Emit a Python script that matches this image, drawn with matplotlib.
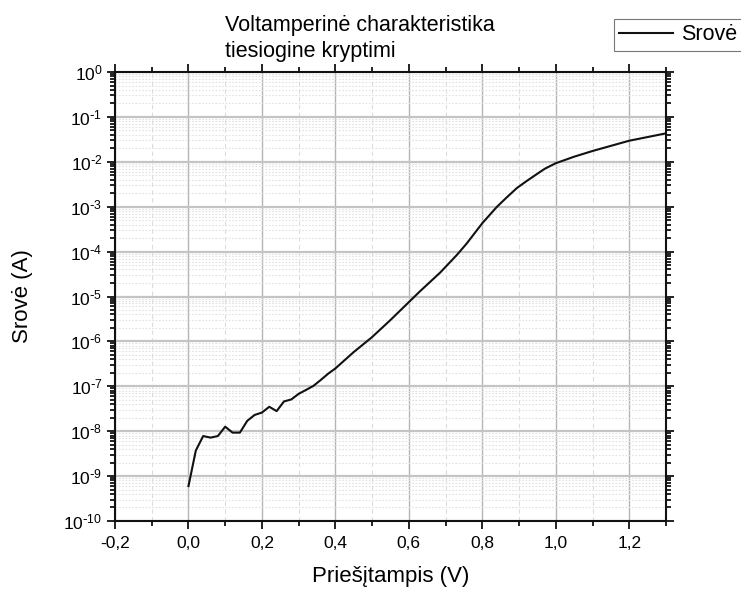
import matplotlib
matplotlib.use("Agg")
import matplotlib.pyplot as plt
from matplotlib.ticker import MultipleLocator, LogLocator, FuncFormatter, NullFormatter
import numpy as np

plt.rcParams['font.family'] = ['Liberation Sans', 'DejaVu Sans']
plt.rcParams['axes.unicode_minus'] = False

voltage = [0.00, 0.02, 0.04, 0.06, 0.08, 0.10, 0.12, 0.14, 0.16, 0.18,
           0.20, 0.22, 0.24, 0.26, 0.28, 0.30, 0.32, 0.34, 0.36, 0.38,
           0.40, 0.45, 0.50, 0.55, 0.60, 0.63, 0.685, 0.73, 0.757, 0.80,
           0.839, 0.866, 0.894, 0.92, 0.945, 0.97, 1.00, 1.05, 1.10, 1.20, 1.30]
current = [6.0e-10, 3.7e-9, 7.8e-9, 7.2e-9, 7.8e-9, 1.26e-8, 9.3e-9, 9.3e-9, 1.7e-8, 2.3e-8,
           2.6e-8, 3.5e-8, 2.8e-8, 4.6e-8, 5.1e-8, 6.8e-8, 8.3e-8, 1.02e-7, 1.38e-7, 1.9e-7,
           2.5e-7, 5.8e-7, 1.25e-6, 3.0e-6, 7.5e-6, 1.3e-5, 3.4e-5, 8.3e-5, 1.5e-4, 4.3e-4,
           9.8e-4, 1.6e-3, 2.6e-3, 3.7e-3, 5.1e-3, 7.0e-3, 9.3e-3, 1.3e-2, 1.74e-2, 2.95e-2, 4.3e-2]


def decade_label(v, pos):
    n = int(round(np.log10(v)))
    if n < 0:
        return r'$\mathregular{10^{\text{-}%d}}$' % (-n)
    return r'$\mathregular{10^{%d}}$' % n


W, H = 741, 590
fig = plt.figure(figsize=(W / 100, H / 100), dpi=100)
ax = fig.add_axes([115 / W, 1 - 521 / H, 551 / W, 449 / H])

ax.plot(voltage, current, color='#111111', lw=1.5, label='Srovė')

ax.set_yscale('log')
ax.set_xlim(-0.2, 1.3)
ax.set_ylim(1e-10, 1)

ax.xaxis.set_major_locator(MultipleLocator(0.2))
ax.xaxis.set_minor_locator(MultipleLocator(0.1))
ax.xaxis.set_major_formatter(FuncFormatter(lambda v, p: '{:.1f}'.format(v).replace('.', ',')))
ax.yaxis.set_major_locator(LogLocator(base=10, numticks=20))
ax.yaxis.set_minor_locator(LogLocator(base=10, subs=range(2, 10), numticks=20))
ax.yaxis.set_major_formatter(FuncFormatter(decade_label))
ax.yaxis.set_minor_formatter(NullFormatter())

# grid lines
ax.grid(which='major', axis='x', color='#b5b5b5', lw=1.0, ls='-')
ax.grid(which='minor', axis='x', color='#dcdcdc', lw=0.8, ls=(0, (4, 3)))
ax.grid(which='major', axis='y', color='#c4c4c4', lw=1.6, ls='-')
ax.grid(which='minor', axis='y', color='#e2e2e2', lw=0.8, ls=(0, (1.5, 1.5)))
ax.set_axisbelow(True)

for s in ax.spines.values():
    s.set_linewidth(1.5)
    s.set_color('#111111')

ax.tick_params(which='both', direction='out', top=True, right=True,
               width=1.3, color='#111111', labelsize=12.5)
ax.tick_params(which='major', length=6)
ax.tick_params(which='minor', length=3.5)
ax.tick_params(axis='x', which='major', pad=5)
ax.tick_params(axis='y', which='major', pad=3)

ax.set_xlabel('Priešįtampis (V)', fontsize=16)
ax.set_ylabel('Srovė (A)', fontsize=16)
ax.xaxis.set_label_coords(0.5, -0.1)
ax.yaxis.set_label_coords(-0.148, 0.5)

fig.text(225 / W, 1 - 30.5 / H, 'Voltamperinė charakteristika', fontsize=15.5, va='baseline')
fig.text(225 / W, 1 - 56.5 / H, 'tiesiogine kryptimi', fontsize=15.5, va='baseline')

leg = fig.legend(loc='upper left', bbox_to_anchor=(614 / W, 1 - 19 / H), fontsize=15.5,
                 frameon=True, fancybox=False, handlelength=2.5, handletextpad=0.35,
                 borderpad=0.25, borderaxespad=0)
leg.get_frame().set_edgecolor('#555555')
leg.get_frame().set_linewidth(0.8)

fig.savefig('out.png', dpi=100)
